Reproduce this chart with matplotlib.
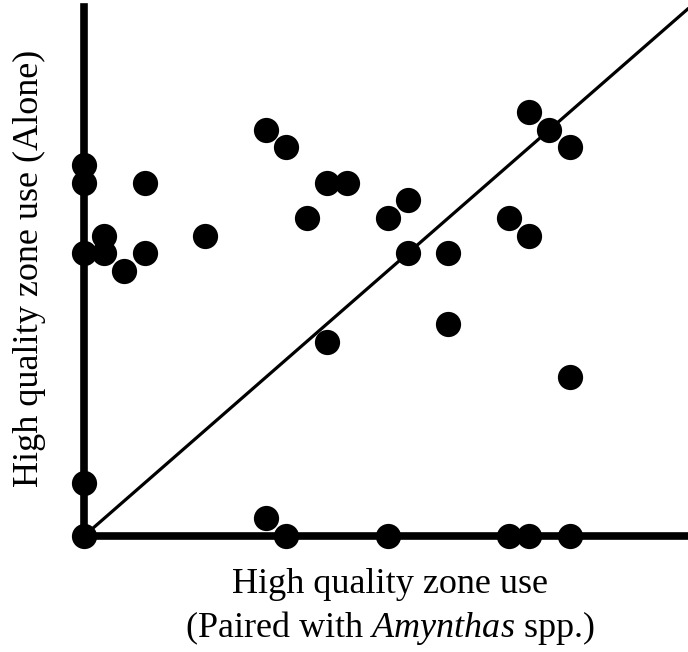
import matplotlib.pyplot as plt

plt.rcParams["font.family"] = ["Liberation Serif", "DejaVu Serif"]
plt.rcParams["mathtext.fontset"] = "custom"
plt.rcParams["mathtext.rm"] = "Liberation Serif"
plt.rcParams["mathtext.it"] = "Liberation Serif:italic"

# high quality zone use (counts out of 30)
paired = [0, 0, 0, 0, 0, 1, 1, 2, 3, 3, 6, 9, 9, 10, 10, 11, 12, 12, 13,
          15, 15, 16, 16, 18, 18, 21, 21, 22, 22, 22, 23, 24, 24, 24]
alone = [21, 20, 16, 3, 0, 17, 16, 15, 20, 16, 17, 23, 1, 22, 0, 18, 20, 11, 20,
         18, 0, 19, 16, 16, 12, 18, 0, 24, 17, 0, 23, 22, 9, 0]
max_use = 30

fig = plt.figure(figsize=(6.88, 6.52), dpi=100)
ax = fig.add_axes([84 / 688, 116 / 652, 604 / 688, 529 / 652])

ax.plot([0, max_use], [0, max_use], color="black", lw=2.3, clip_on=True, zorder=2)
ax.scatter(paired, alone, s=330, color="black", clip_on=False, zorder=3, linewidths=0)

ax.set_xlim(0, 29.85)
ax.set_ylim(0, 29.95)
for side in ["top", "right"]:
    ax.spines[side].set_visible(False)
for side in ["left", "bottom"]:
    ax.spines[side].set_linewidth(5.5)
ax.set_xticks([])
ax.set_yticks([])

fig.text(390 / 688, 1 - 593 / 652, "High quality zone use", ha="center",
         va="baseline", fontsize=26)
fig.text(390 / 688, 1 - 637 / 652, "(Paired with $\\it{Amynthas}$ spp.)",
         ha="center", va="baseline", fontsize=26)
fig.text(29 / 688, 1 - 268 / 652, "High quality zone use (Alone)", ha="center",
         va="center", rotation=90, fontsize=26)

fig.savefig("out.png", dpi=100)
